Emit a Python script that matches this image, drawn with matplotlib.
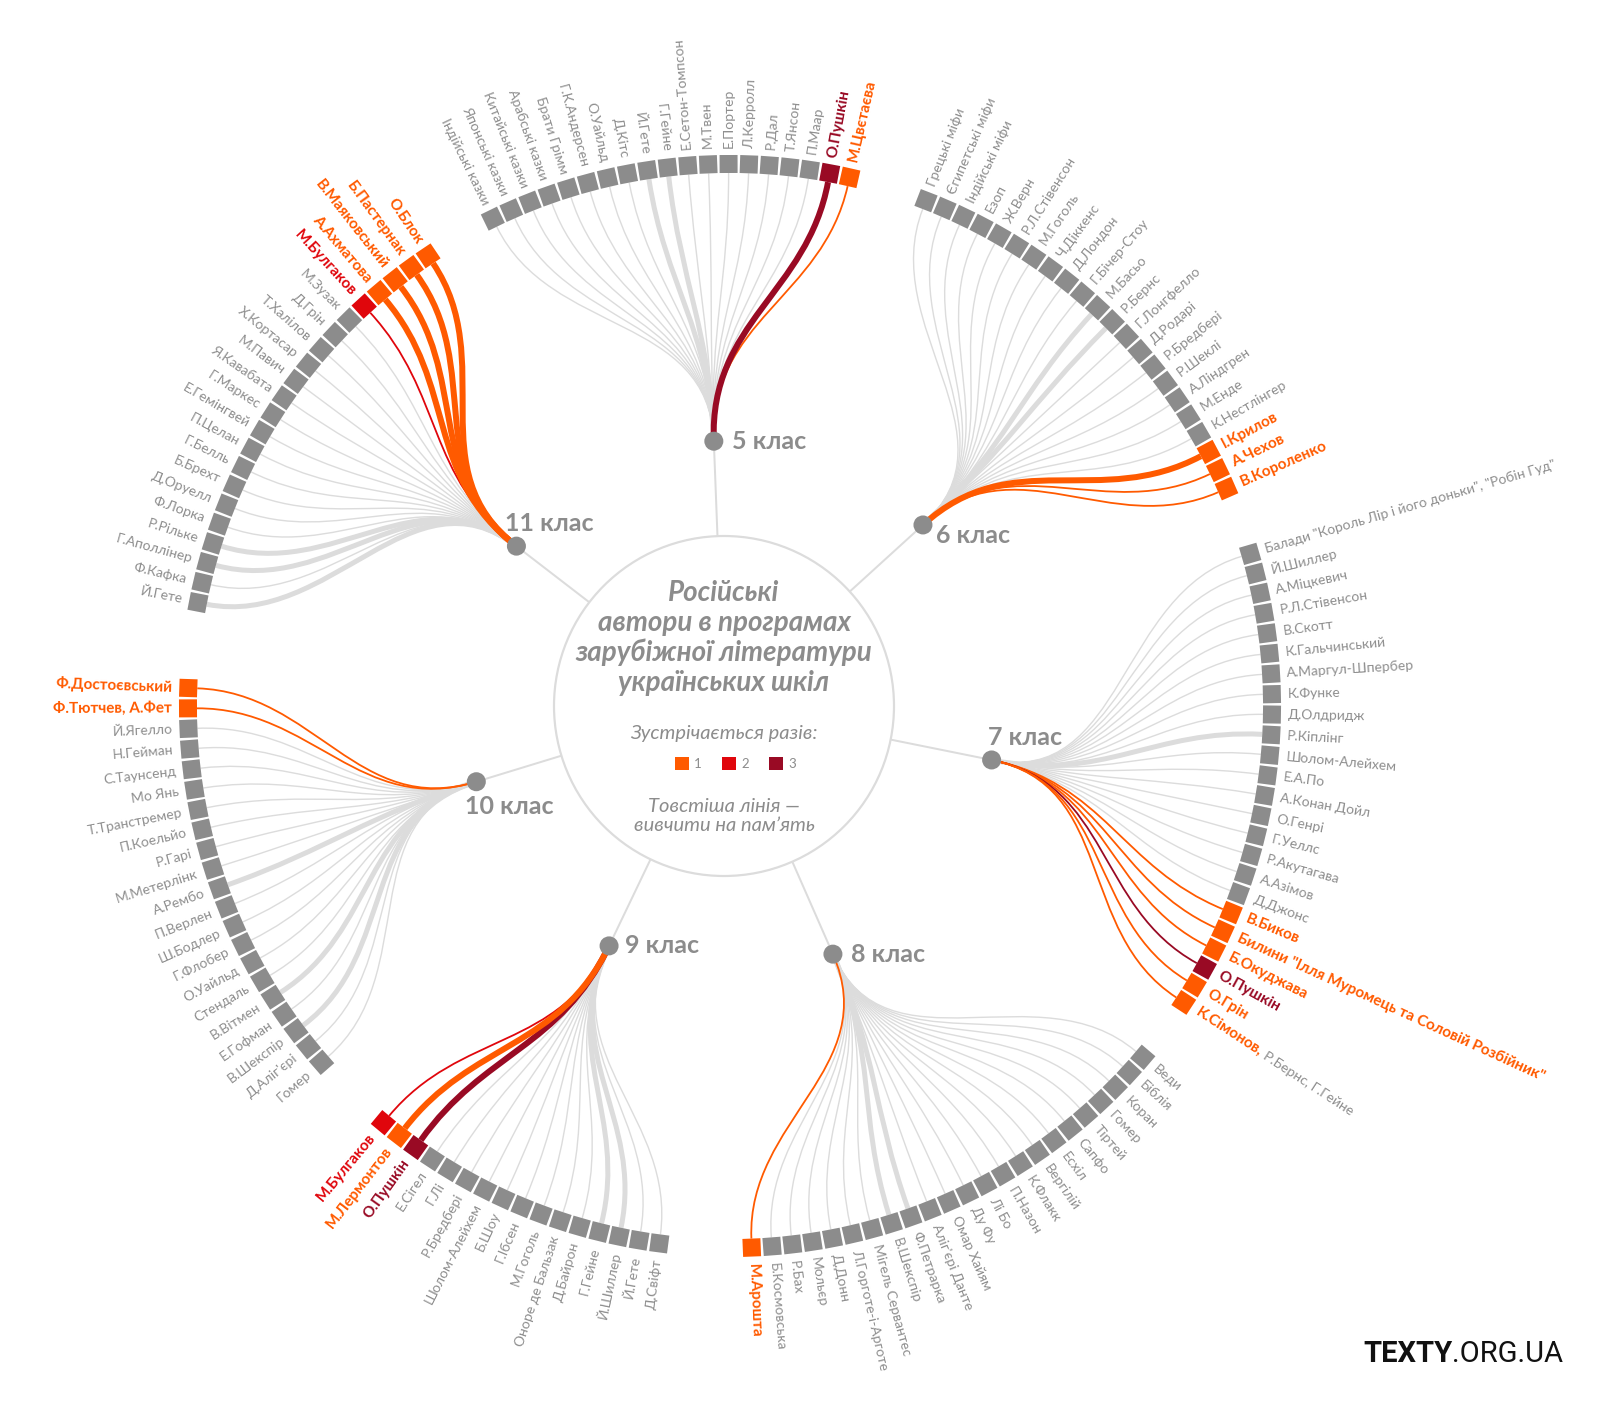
import numpy as np
import matplotlib
matplotlib.use("Agg")
import matplotlib.pyplot as plt
from matplotlib.path import Path
from matplotlib.patches import PathPatch, Polygon, Circle

# ------------------------------------------------------------------ data
classes = ["5 клас", "6 клас", "7 клас", "8 клас", "9 клас", "10 клас", "11 клас"]

authors_5 = ["Індійські казки", "Японські казки", "Китайські казки", "Арабські казки",
             "Брати Грімм", "Г.К.Андерсен", "О.Уайльд", "Д.Кітс", "Й.Гете", "Г.Гейне",
             "Е.Сетон-Томпсон", "М.Твен", "Е.Портер", "Л.Керролл", "Р.Дал", "Т.Янсон",
             "П.Маар", "О.Пушкін", "М.Цвєтаєва"]
count_5 = [0, 0, 0, 0, 0, 0, 0, 0, 0, 0, 0, 0, 0, 0, 0, 0, 0, 3, 1]
memo_5 = [0, 0, 0, 0, 0, 0, 0, 0, 1, 1, 0, 0, 0, 0, 0, 0, 0, 1, 0]

authors_6 = ["Грецькі міфи", "Єгипетські міфи", "Індійські міфи", "Езоп", "Ж.Верн",
             "Р.Л.Стівенсон", "М.Гоголь", "Ч.Діккенс", "Д.Лондон", "Г.Бічер-Стоу",
             "М.Басьо", "Р.Бернс", "Г.Лонгфелло", "Д.Родарі", "Р.Бредбері", "Р.Шеклі",
             "А.Ліндгрен", "М.Енде", "К.Нестлінгер", "І.Крилов", "А.Чехов", "В.Короленко"]
count_6 = [0, 0, 0, 0, 0, 0, 0, 0, 0, 0, 0, 0, 0, 0, 0, 0, 0, 0, 0, 1, 1, 1]
memo_6 = [0, 0, 0, 0, 0, 0, 0, 0, 0, 0, 1, 1, 0, 0, 0, 0, 0, 0, 0, 1, 0, 0]

authors_7 = ['Балади "Король Лір і його доньки", "Робін Гуд"', "Й.Шиллер", "А.Міцкевич",
             "Р.Л.Стівенсон", "В.Скотт", "К.Гальчинський", "А.Маргул-Шпербер", "К.Функе",
             "Д.Олдридж", "Р.Кіплінг", "Шолом-Алейхем", "Е.А.По", "А.Конан Дойл", "О.Генрі",
             "Г.Уеллс", "Р.Акутагава", "А.Азімов", "Д.Джонс", "В.Биков",
             'Билини "Ілля Муромець та Соловій Розбійник"', "Б.Окуджава", "О.Пушкін",
             "О.Грін", "К.Сімонов,"]
count_7 = [0, 0, 0, 0, 0, 0, 0, 0, 0, 0, 0, 0, 0, 0, 0, 0, 0, 0, 1, 1, 1, 3, 1, 1]
memo_7 = [0, 0, 0, 0, 0, 0, 0, 0, 0, 1, 0, 0, 0, 0, 0, 0, 0, 0, 0, 0, 0, 0, 0, 0]
note_7 = {23: "Р.Бернс, Г.Гейне"}

authors_8 = ["Веди", "Біблія", "Коран", "Гомер", "Тіртей", "Сапфо", "Есхіл", "Вергілій",
             "К.Флакк", "П.Назон", "Лі Бо", "Ду Фу", "Омар Хайям", "Аліг'єрі Данте",
             "Ф.Петрарка", "В.Шекспір", "Мігель Сервантес", "Л.Горготе-і-Арготе", "Д.Донн",
             "Мольєр", "Р.Бах", "Б.Космовська", "М.Арошта"]
count_8 = [0, 0, 0, 0, 0, 0, 0, 0, 0, 0, 0, 0, 0, 0, 0, 0, 0, 0, 0, 0, 0, 0, 1]
memo_8 = [0, 0, 0, 0, 0, 0, 0, 0, 0, 0, 0, 0, 0, 0, 1, 1, 0, 0, 0, 0, 0, 0, 0]

authors_9 = ["Д.Свіфт", "Й.Гете", "Й.Шиллер", "Г.Гейне", "Д.Байрон", "Оноре де Бальзак",
             "М.Гоголь", "Г.Ібсен", "Б.Шоу", "Шолом-Алейхем", "Р.Бредбері", "Г.Лі",
             "Е.Сігел", "О.Пушкін", "М.Лермонтов", "М.Булгаков"]
count_9 = [0, 0, 0, 0, 0, 0, 0, 0, 0, 0, 0, 0, 0, 3, 1, 2]
memo_9 = [0, 0, 1, 1, 0, 0, 0, 0, 0, 0, 0, 0, 0, 1, 1, 0]

authors_10 = ["Гомер", "Д.Аліг'єрі", "В.Шекспір", "Е.Гофман", "В.Вітмен", "Стендаль",
              "О.Уайльд", "Г.Флобер", "Ш.Бодлер", "П.Верлен", "А.Рембо", "М.Метерлінк",
              "Р.Гарі", "П.Коельйо", "Т.Транстремер", "Мо Янь", "С.Таунсенд", "Н.Гейман",
              "Й.Ягелло", "Ф.Тютчев, А.Фет", "Ф.Достоєвський"]
count_10 = [0, 0, 0, 0, 0, 0, 0, 0, 0, 0, 0, 0, 0, 0, 0, 0, 0, 0, 0, 1, 1]
memo_10 = [0, 0, 1, 0, 1, 0, 0, 0, 0, 0, 1, 0, 0, 0, 0, 0, 0, 0, 0, 0, 0]

authors_11 = ["Й.Гете", "Ф.Кафка", "Г.Аполлінер", "Р.Рільке", "Ф.Лорка", "Д.Оруелл",
              "Б.Брехт", "Г.Белль", "П.Целан", "Е.Гемінгвей", "Г.Маркес", "Я.Кавабата",
              "М.Павич", "Х.Кортасар", "Т.Халілов", "Д.Грін", "М.Зузак", "М.Булгаков",
              "А.Ахматова", "В.Маяковський", "Б.Пастернак", "О.Блок"]
count_11 = [0, 0, 0, 0, 0, 0, 0, 0, 0, 0, 0, 0, 0, 0, 0, 0, 0, 2, 1, 1, 1, 1]
memo_11 = [1, 0, 1, 1, 0, 0, 0, 0, 0, 0, 0, 0, 0, 0, 0, 0, 0, 0, 1, 1, 1, 1]

groups = [(authors_5, count_5, memo_5, {}),
          (authors_6, count_6, memo_6, {}),
          (authors_7, count_7, memo_7, note_7),
          (authors_8, count_8, memo_8, {}),
          (authors_9, count_9, memo_9, {}),
          (authors_10, count_10, memo_10, {}),
          (authors_11, count_11, memo_11, {})]

title = "Російські\nавтори в програмах\nзарубіжної літератури\nукраїнських шкіл"
legend_title = "Зустрічається разів:"
legend_values = [1, 2, 3]
note_text = "Товстіша лінія —\nвивчити на пам’ять"

# ------------------------------------------------------------------ layout / style
W, H = 1600, 1408
CX, CY, R_C = 724, 706, 170           # centre circle
SX, SY, R_SQ = 730, 706, 542          # ring of squares
STEP = 2.15                           # degrees between squares
SQ = 18                               # square side (px)
start_angles = [115.95, 68.8, 16.3, -40.4, -97.5, -138.9, 169.0]
dot_angles = [92.2, 42.3, -11.4, -66.3, -115.6, -163.0, 142.4]
dot_dists = [265, 269, 273, 271, 266, 259, 262]
class_lab_off = [(18, 0), (13, 11), (-4, -22), (18, 0), (16, 0), (-11, 25), (-11, -23)]

GRAY_SQ = "#8c8c8c"
GRAY_TXT = "#8e8e8e"
GRAY_LINE = "#dcdcdc"
COL = {0: GRAY_SQ, 1: "#ff5a00", 2: "#e0060c", 3: "#990a24"}
FONT = ["Lato", "DejaVu Sans"]
PT = 0.72  # points per pixel at dpi 100

plt.rcParams["font.family"] = FONT

fig = plt.figure(figsize=(W / 100, H / 100), dpi=100)
ax = fig.add_axes([0, 0, 1, 1])
ax.set_xlim(0, W)
ax.set_ylim(H, 0)
ax.axis("off")
renderer = fig.canvas.get_renderer()


def pol(cx, cy, r, ang):
    a = np.radians(ang)
    return np.array([cx + r * np.cos(a), cy - r * np.sin(a)])


def unit(ang):
    a = np.radians(ang)
    return np.array([np.cos(a), -np.sin(a)])


# centre circle
ax.add_patch(Circle((CX, CY), R_C, facecolor="white", edgecolor=GRAY_LINE,
                    lw=2.2 * PT, zorder=3))

for gi, (authors, counts, memo, notes) in enumerate(groups):
    da = dot_angles[gi]
    D = pol(CX, CY, dot_dists[gi], da)
    ud = unit(da)
    # ray from circle to dot
    p0 = pol(CX, CY, R_C, da)
    ax.plot([p0[0], D[0]], [p0[1], D[1]], color=GRAY_LINE, lw=2 * PT, zorder=1,
            solid_capstyle="butt")
    n = len(authors)
    # links: gray first, coloured on top
    order = sorted(range(n), key=lambda i: (counts[i] > 0, memo[i]))
    for i in order:
        a = start_angles[gi] - i * STEP
        u = unit(a)
        S = pol(SX, SY, R_SQ, a)
        P3 = S - u * (SQ / 2)
        L = np.hypot(*(P3 - D))
        P1 = D + ud * 0.42 * L
        P2 = P3 - u * 0.40 * L
        path = Path([D, P1, P2, P3], [Path.MOVETO, Path.CURVE4, Path.CURVE4, Path.CURVE4])
        if counts[i] == 0:
            col = GRAY_LINE
            lw = (5.0 if memo[i] else 1.4) * PT
            z = 2
        else:
            col = COL[counts[i]]
            lw = (6.0 if memo[i] else 1.8) * PT
            z = 2.5
        ax.add_patch(PathPatch(path, facecolor="none", edgecolor=col, lw=lw,
                               zorder=z, capstyle="butt"))
    # squares and labels
    for i in range(n):
        a = start_angles[gi] - i * STEP
        u = unit(a)
        t = np.array([u[1] * -1, u[0]])
        S = pol(SX, SY, R_SQ, a)
        h = SQ / 2
        corners = [S + h * u + h * t, S + h * u - h * t, S - h * u - h * t, S - h * u + h * t]
        ax.add_patch(Polygon(corners, closed=True, facecolor=COL[counts[i]],
                             edgecolor="none", zorder=4))
        an = (a + 180) % 360 - 180
        if -90 < an <= 95:
            rot, ha = an, "left"
        else:
            rot, ha = an - 180 if an > 0 else an + 180, "right"
        P = pol(SX, SY, R_SQ + 16, a)
        if counts[i] == 0:
            kw = dict(color=GRAY_TXT, fontsize=10, fontweight="normal")
        else:
            kw = dict(color=COL[counts[i]], fontsize=11, fontweight="bold")
        ax.text(P[0], P[1], authors[i], rotation=rot, rotation_mode="anchor",
                ha=ha, va="center", zorder=5, **kw)
        if i in notes:
            tmp = ax.text(0, 0, authors[i] + " ", rotation=0, **kw)
            w = tmp.get_window_extent(renderer).width
            tmp.remove()
            Q = P + u * w
            ax.text(Q[0], Q[1], notes[i], rotation=rot, rotation_mode="anchor",
                    ha="left", va="center", color=GRAY_TXT, fontsize=10, zorder=5)
    # dot and class label
    ax.add_patch(Circle(D, 9.5, facecolor=GRAY_SQ, edgecolor="none", zorder=6))
    ox, oy = class_lab_off[gi]
    ax.text(D[0] + ox, D[1] + oy, classes[gi], ha="left", va="center",
            fontsize=18, fontweight="bold", color=GRAY_SQ, zorder=6)

# centre texts
ax.text(CX, 638, title, ha="center", va="center", fontsize=20, fontweight="bold",
        fontstyle="italic", color=GRAY_SQ, linespacing=1.15, zorder=5)
ax.text(CX, 733, legend_title, ha="center", va="center", fontsize=14.5,
        fontstyle="italic", color=GRAY_SQ, zorder=5)
for k, v in enumerate(legend_values):
    x0 = 682 + k * 47
    ax.add_patch(Polygon([(x0 - 7, 757), (x0 + 7, 757), (x0 + 7, 770), (x0 - 7, 770)],
                         closed=True, facecolor=COL[v], edgecolor="none", zorder=5))
    ax.text(x0 + 12, 764, str(v), ha="left", va="center", fontsize=9.5,
            color=GRAY_SQ, zorder=5)
ax.text(CX, 816, note_text, ha="center", va="center", fontsize=14.5,
        fontstyle="italic", color=GRAY_SQ, linespacing=1.15, zorder=5)

# logo
t1 = ax.text(1363, 1354, "TEXTY", ha="left", va="center", fontsize=21,
             fontweight="bold", color="#111111", family=["Roboto", "DejaVu Sans"])
w1 = t1.get_window_extent(renderer).width
ax.text(1363 + w1, 1354, ".ORG.UA", ha="left", va="center", fontsize=21,
        color="#111111", family=["Roboto", "DejaVu Sans"])

fig.savefig("out.png", dpi=100, facecolor="white")
